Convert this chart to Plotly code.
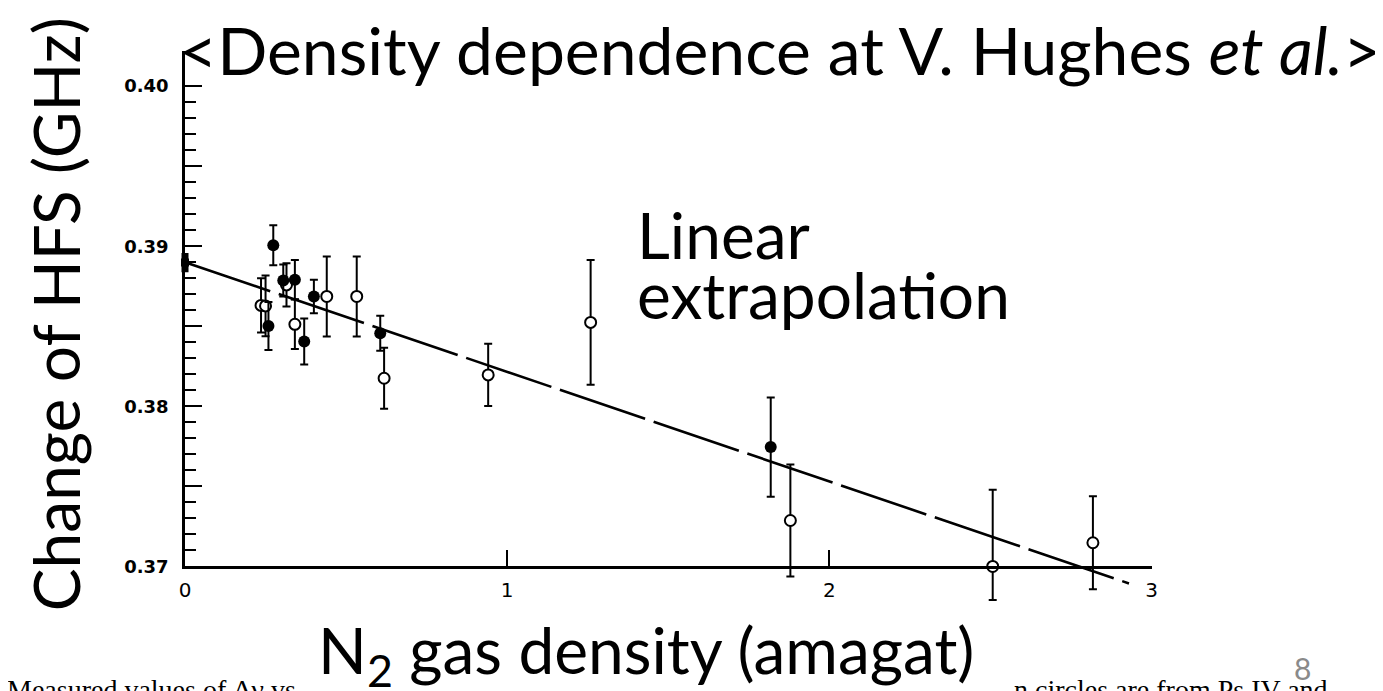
import plotly.graph_objects as go

# N2 density (amagat) and change of HFS (GHz)
filled_x = [0.259, 0.274, 0.305, 0.341, 0.370, 0.400, 0.606, 1.818]
filled_y = [0.38501, 0.39006, 0.38785, 0.38791, 0.38405, 0.38686, 0.38456, 0.37745]
filled_err = [0.0015, 0.00125, 0.0010, 0.00123, 0.00144, 0.00105, 0.0011, 0.0031]

open_x = [0.236, 0.250, 0.315, 0.341, 0.440, 0.533, 0.618, 0.941, 1.259, 1.879, 2.507, 2.818]
open_y = [0.38630, 0.38627, 0.38758, 0.38512, 0.38686, 0.38686, 0.38175, 0.38196, 0.38524, 0.37286, 0.36999, 0.37147]
open_err_plus = [0.0017, 0.0019, 0.00135, 0.00155, 0.0025, 0.0025, 0.0019, 0.00195, 0.0039, 0.0035, 0.0048, 0.0029]
open_err_minus = [0.0017, 0.0019, 0.00135, 0.00155, 0.0025, 0.0025, 0.0019, 0.00195, 0.0039, 0.0035, 0.0021, 0.0029]

zero_x = [0.0]
zero_y = [0.38898]
zero_err = [0.0006]

fit_intercept = 0.3890
fit_slope = -0.00685
fit_x = [0.0, 2.93]

x_tick_vals = [0, 1, 2, 3]
x_tick_text = ["0", "1", "2", "3"]
y_tick_vals = [0.37, 0.38, 0.39, 0.40]
y_tick_text = ["0.37", "0.38", "0.39", "0.40"]
y_mid_vals = [0.375, 0.385, 0.395]
y_minor_vals = [round(0.370 + 0.001 * i, 3) for i in range(31)]

W, H = 1383, 691
# pixel calibration of the scanned axes
X0_PX, X_SCALE = 172.5, 325.0
Y_REF, Y_REF_PX, Y_SCALE = 0.39, 241.7, 16240.0


def x_dom(lo, hi):
    return [(X0_PX + lo * X_SCALE) / W, (X0_PX + hi * X_SCALE) / W]


def y_dom(lo, hi):
    top = Y_REF_PX - (hi - Y_REF) * Y_SCALE
    bot = Y_REF_PX - (lo - Y_REF) * Y_SCALE
    return [1 - bot / H, 1 - top / H]


data_xr = [-0.25, 3.6]
data_yr = [0.364, 0.4035]
axis_xr = [0, 3]
axis_yr = [0.37, 0.4022]

fig = go.Figure()

fit_y = [fit_intercept + fit_slope * v for v in fit_x]
fig.add_trace(go.Scatter(
    x=fit_x, y=fit_y, mode='lines',
    line=dict(color='black', width=2.6, dash='90px,9px'),
    hoverinfo='skip'
))

fig.add_trace(go.Scatter(
    x=open_x, y=open_y, mode='markers',
    marker=dict(symbol='circle', size=11, color='white', line=dict(color='black', width=2)),
    error_y=dict(type='data', array=open_err_plus, arrayminus=open_err_minus,
                 color='black', thickness=2, width=4),
))

fig.add_trace(go.Scatter(
    x=filled_x, y=filled_y, mode='markers',
    marker=dict(symbol='circle', size=12, color='black'),
    error_y=dict(type='data', array=filled_err, color='black', thickness=2, width=4),
))

fig.add_trace(go.Scatter(
    x=zero_x, y=zero_y, mode='markers',
    marker=dict(symbol='square', size=8, color='black'),
    error_y=dict(type='data', array=zero_err, color='black', thickness=7, width=0),
))

# axes frame drawn on separate axes so it can sit inside the data area
fig.add_trace(go.Scatter(x=[], y=[], xaxis='x2', yaxis='y2', showlegend=False))
fig.add_trace(go.Scatter(x=[], y=[], xaxis='x2', yaxis='y3', showlegend=False))

fig.update_layout(
    width=W, height=H,
    margin=dict(l=0, r=0, t=0, b=0),
    paper_bgcolor='white', plot_bgcolor='rgba(0,0,0,0)',
    showlegend=False,
    xaxis=dict(domain=x_dom(*data_xr), range=data_xr, visible=False),
    yaxis=dict(domain=y_dom(*data_yr), range=data_yr, visible=False),
    xaxis2=dict(
        domain=x_dom(*axis_xr), range=axis_xr, anchor='y2',
        showline=True, linecolor='black', linewidth=2.5,
        showgrid=False, zeroline=False,
        ticks='inside', ticklen=17, tickwidth=2, tickcolor='black',
        tickmode='array', tickvals=x_tick_vals, ticktext=x_tick_text,
        tickfont=dict(family='DejaVu Sans', size=20, color='black'),
        ticklabelstandoff=4,
    ),
    yaxis2=dict(
        domain=y_dom(*axis_yr), range=axis_yr, anchor='x2',
        showline=True, linecolor='black', linewidth=2.5,
        showgrid=False, zeroline=False,
        ticks='inside', ticklen=17, tickwidth=2, tickcolor='black',
        tickmode='array', tickvals=y_tick_vals, ticktext=y_tick_text,
        tickfont=dict(family='DejaVu Sans', size=18, color='black', weight='bold'),
        ticklabelstandoff=10,
        minor=dict(ticks='inside', ticklen=11, tickwidth=2, tickcolor='black',
                   tickmode='array', tickvals=y_minor_vals, showgrid=False),
    ),
    yaxis3=dict(
        domain=y_dom(*axis_yr), range=axis_yr, anchor='x2', overlaying='y2',
        showline=False, showgrid=False, zeroline=False, showticklabels=False,
        ticks='inside', ticklen=17, tickwidth=2, tickcolor='black',
        tickmode='array', tickvals=y_mid_vals,
    ),
)

big = dict(family='Lato', size=64, color='black')
fig.add_annotation(text='<Density dependence at V. Hughes <i>et al.</i>>',
                   x=773 / W, y=1, xref='paper', yref='paper',
                   xanchor='center', yanchor='top', showarrow=False,
                   font=dict(family='Lato', size=66, color='black'))
fig.add_annotation(text='Change of HFS (GHz)', textangle=-90,
                   x=42 / W, y=1 - 311 / H, xref='paper', yref='paper',
                   xanchor='center', yanchor='middle', showarrow=False, font=big)
fig.add_annotation(text='Linear', x=626 / W, y=1 - 230 / H, xref='paper', yref='paper',
                   xanchor='left', yanchor='middle', showarrow=False, font=big)
fig.add_annotation(text='extrapolation', x=626 / W, y=1 - 291 / H, xref='paper', yref='paper',
                   xanchor='left', yanchor='middle', showarrow=False, font=big)
fig.add_annotation(text='N<sub>2</sub> gas density (amagat)',
                   x=638 / W, y=1 - 655 / H, xref='paper', yref='paper',
                   xanchor='center', yanchor='middle', showarrow=False, font=big)

serif = dict(family='Liberation Serif', size=28, color='black')
fig.add_annotation(text='Measured values of Δν vs', x=-9 / W, y=1 - 709 / H,
                   xref='paper', yref='paper', xanchor='left', yanchor='bottom',
                   showarrow=False, font=serif)
fig.add_annotation(text='n circles are from Ps IV and', x=1007 / W, y=1 - 709 / H,
                   xref='paper', yref='paper', xanchor='left', yanchor='bottom',
                   showarrow=False, font=serif)
fig.add_annotation(text='8', x=1300 / W, y=1 - 670 / H, xref='paper', yref='paper',
                   xanchor='center', yanchor='middle', showarrow=False,
                   font=dict(family='Lato', size=30, color='#8a8a8a'))

fig.write_html("out.html")
